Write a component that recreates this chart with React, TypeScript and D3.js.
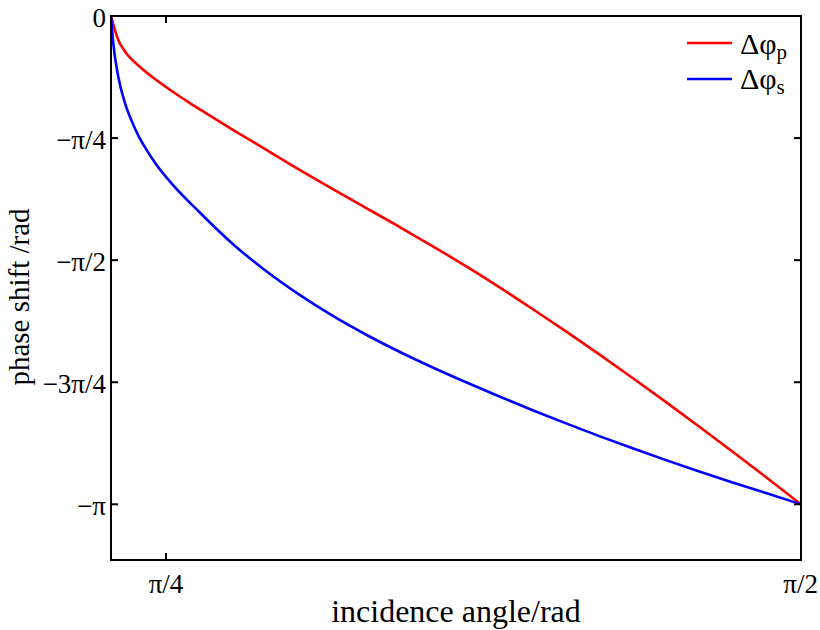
import React from "react";
import * as d3 from "d3";

// incidence angle (rad) and phase shift (rad)
const redTheta = [0.7174, 0.7264, 0.7347, 0.7512, 0.7718, 0.7925, 0.813, 0.8337, 0.8687, 0.91, 0.9512, 0.9923, 1.0337, 1.0748, 1.116, 1.1573, 1.1985, 1.2397, 1.281, 1.3222, 1.3634, 1.4047, 1.4459, 1.4871, 1.5284, 1.5708];
const redPhase = [0, -0.1545, -0.2285, -0.3187, -0.4056, -0.4828, -0.5536, -0.6212, -0.7339, -0.8627, -0.9914, -1.115, -1.2373, -1.359, -1.4833, -1.6126, -1.7478, -1.8882, -2.0324, -2.1804, -2.3324, -2.4875, -2.6459, -2.8068, -2.9704, -3.1416];

const blueTheta = [0.7174, 0.7202, 0.7264, 0.7347, 0.743, 0.7512, 0.7616, 0.7718, 0.7925, 0.8275, 0.8687, 0.91, 0.9512, 0.9923, 1.0337, 1.0748, 1.116, 1.1573, 1.1985, 1.2397, 1.281, 1.3222, 1.3634, 1.4047, 1.4459, 1.4871, 1.5284, 1.5708];
const bluePhase = [0, -0.1738, -0.3908, -0.5601, -0.676, -0.7693, -0.8627, -0.9438, -1.0783, -1.2657, -1.4697, -1.6436, -1.7961, -1.9313, -2.0523, -2.1618, -2.2629, -2.3581, -2.4495, -2.5377, -2.6227, -2.7045, -2.783, -2.859, -2.9324, -3.0026, -3.0708, -3.1416];

const xTickValues = [Math.PI / 4, Math.PI / 2];
const xTickLabels = ["π/4", "π/2"];
const yTickValues = [0, -Math.PI / 4, -Math.PI / 2, (-3 * Math.PI) / 4, -Math.PI];
const yTickLabels = ["0", "−π/4", "−π/2", "−3π/4", "−π"];

const seriesNames = ["p", "s"];
const seriesColors = ["#ff0000", "#0000ff"];

const FONT = "'Liberation Serif', 'Times New Roman', serif";

export default function App() {
  const W = 820, H = 630;
  const L = 111, R = 801, T = 16, B = 560;
  const x = d3.scaleLinear().domain([0.7174, Math.PI / 2]).range([L, R]);
  const y = d3.scaleLinear().domain([-3.5, 0]).range([B, T]);
  const line = d3
    .line<[number, number]>()
    .x((d) => x(d[0]))
    .y((d) => y(d[1]))
    .curve(d3.curveMonotoneX);
  const red = redTheta.map((t, i) => [t, redPhase[i]] as [number, number]);
  const blue = blueTheta.map((t, i) => [t, bluePhase[i]] as [number, number]);
  const tk = 7;
  return (
    <svg width={W} height={H} style={{ position: "absolute", left: 0, top: 0, background: "#fff" }} fontFamily={FONT}>
      <rect x={0} y={0} width={W} height={H} fill="#fff" />
      <defs>
        <clipPath id="plot">
          <rect x={L} y={T} width={R - L} height={B - T} />
        </clipPath>
      </defs>
      <g clipPath="url(#plot)">
        <path d={line(red) || ""} fill="none" stroke={seriesColors[0]} strokeWidth={2.6} strokeLinejoin="round" />
        <path d={line(blue) || ""} fill="none" stroke={seriesColors[1]} strokeWidth={2.6} strokeLinejoin="round" />
      </g>
      <rect x={L} y={T} width={R - L} height={B - T} fill="none" stroke="#000" strokeWidth={2} />
      {xTickValues.map((v, i) => (
        <g key={"x" + i}>
          <line x1={x(v)} x2={x(v)} y1={B} y2={B - tk} stroke="#000" strokeWidth={2} />
          <line x1={x(v)} x2={x(v)} y1={T} y2={T + tk} stroke="#000" strokeWidth={2} />
          <text
            x={i === xTickValues.length - 1 ? 818 : x(v)}
            y={593}
            textAnchor={i === xTickValues.length - 1 ? "end" : "middle"}
            fontSize={27}
            fill="#000"
          >
            {xTickLabels[i]}
          </text>
        </g>
      ))}
      {yTickValues.map((v, i) => (
        <g key={"y" + i}>
          <line x1={L} x2={L + tk} y1={y(v)} y2={y(v)} stroke="#000" strokeWidth={2} />
          <line x1={R} x2={R - tk} y1={y(v)} y2={y(v)} stroke="#000" strokeWidth={2} />
          <text x={106} y={y(v) + 11} textAnchor="end" fontSize={27} fill="#000">
            {yTickLabels[i]}
          </text>
        </g>
      ))}
      <text x={(L + R) / 2} y={622} textAnchor="middle" fontSize={32} fill="#000">
        incidence angle/rad
      </text>
      <text transform={`translate(29,297) rotate(-90)`} textAnchor="middle" fontSize={29} fill="#000">
        phase shift /rad
      </text>
      {seriesNames.map((n, i) => (
        <g key={"lg" + i}>
          <line x1={687} x2={732} y1={43 + i * 36} y2={43 + i * 36} stroke={seriesColors[i]} strokeWidth={2.6} />
          <text x={740} y={54 + i * 34.5} fontSize={30} fill="#000">
            Δφ
            <tspan fontSize={21} dy={5}>
              {n}
            </tspan>
          </text>
        </g>
      ))}
    </svg>
  );
}
